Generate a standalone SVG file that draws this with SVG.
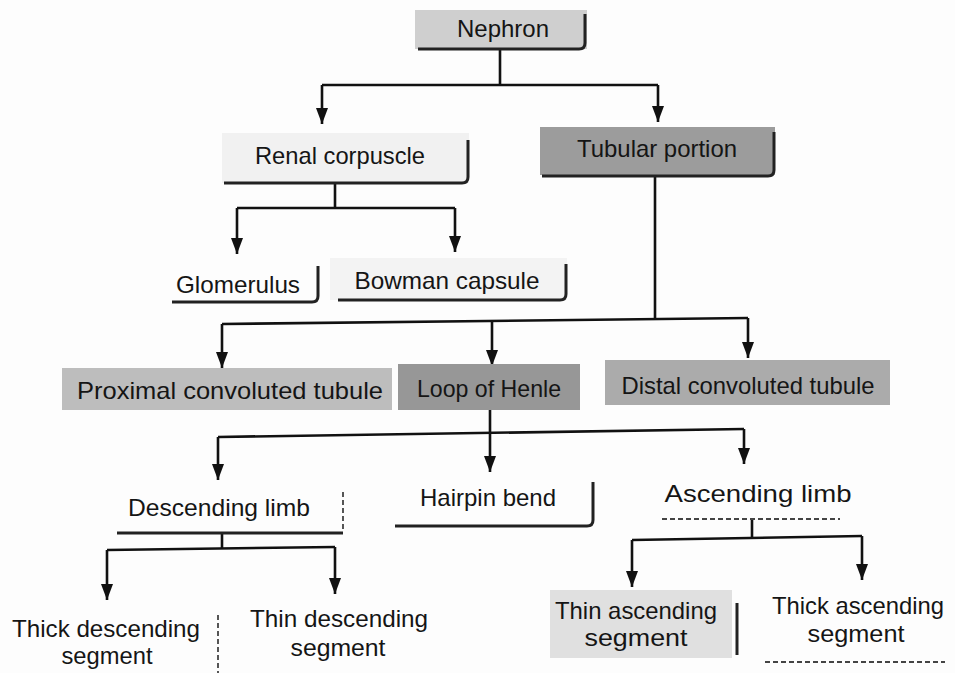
<svg xmlns="http://www.w3.org/2000/svg" width="955" height="673" viewBox="0 0 955 673">
<defs>
<marker id="arr" markerUnits="userSpaceOnUse" markerWidth="16" markerHeight="14" viewBox="0 0 16 14" refX="16" refY="7" orient="auto">
<path d="M0,1 L16,7 L0,13 Z" fill="#111"/>
</marker>
</defs>
<style>
text{font-family:"Liberation Sans Narrow","Liberation Sans","Arial",sans-serif;font-size:24px;fill:#151515;text-anchor:middle}
.sh{fill:none;stroke:#222;stroke-width:3}
.shd{fill:none;stroke:#444;stroke-width:1.8;stroke-dasharray:5 3}
.con path{fill:none;stroke:#111;stroke-width:2.6}
</style>
<rect width="955" height="673" fill="#fdfdfd"/>
<g class="con">
<path d="M500 50 V85"/>
<path d="M322 85 H658"/>
<path d="M322 85 V124" marker-end="url(#arr)"/>
<path d="M658 85 V122" marker-end="url(#arr)"/>
<path d="M335 183 V208"/>
<path d="M237 208 H455"/>
<path d="M237 208 V254" marker-end="url(#arr)"/>
<path d="M455 208 V252" marker-end="url(#arr)"/>
<path d="M655 175 V320"/>
<path d="M222 324 L748 318"/>
<path d="M222 324 V368" marker-end="url(#arr)"/>
<path d="M492 321 V366" marker-end="url(#arr)"/>
<path d="M748 318 V358" marker-end="url(#arr)"/>
<path d="M490 410 V433"/>
<path d="M218 437 L744 429"/>
<path d="M218 437 V480" marker-end="url(#arr)"/>
<path d="M490 433 V472" marker-end="url(#arr)"/>
<path d="M744 429 V464" marker-end="url(#arr)"/>
<path d="M222 534 V549"/>
<path d="M107 550 L335 547"/>
<path d="M107 550 V600" marker-end="url(#arr)"/>
<path d="M335 547 V594" marker-end="url(#arr)"/>
<path d="M752 519 V538"/>
<path d="M632 540 L862 536"/>
<path d="M632 540 V587" marker-end="url(#arr)"/>
<path d="M862 536 V580" marker-end="url(#arr)"/>
</g>
<g id="nephron">
<rect x="415" y="10" width="172" height="39" fill="#cfcfcf"/>
<path class="sh" d="M585 14 V43 Q585 49 579 49 H418"/>
<text x="503" y="37" textLength="92" lengthAdjust="spacingAndGlyphs">Nephron</text>
</g>
<g id="renal-corpuscle">
<rect x="222" y="133" width="247" height="50" fill="#f1f1f1"/>
<path class="sh" d="M468 140 V177 Q468 183 462 183 H224"/>
<text x="340" y="164" textLength="170" lengthAdjust="spacingAndGlyphs">Renal corpuscle</text>
</g>
<g id="tubular-portion">
<rect x="540" y="127" width="235" height="48" fill="#9c9c9c"/>
<path class="sh" d="M774 132 V170 Q774 176 768 176 H542"/>
<text x="657" y="157" textLength="160" lengthAdjust="spacingAndGlyphs">Tubular portion</text>
</g>
<g id="glomerulus">
<path class="sh" d="M318 266 V296 Q318 302 312 302 H172"/>
<text x="238" y="293" textLength="124" lengthAdjust="spacingAndGlyphs">Glomerulus</text>
</g>
<g id="bowman-capsule">
<rect x="330" y="258" width="237" height="42" fill="#f3f3f3"/>
<path class="sh" d="M566 264 V294 Q566 300 560 300 H338"/>
<text x="447" y="289" textLength="185" lengthAdjust="spacingAndGlyphs">Bowman capsule</text>
</g>
<g id="proximal-convoluted-tubule">
<rect x="62" y="368" width="330" height="42" fill="#bdbdbd"/>
<text x="230" y="399" textLength="306" lengthAdjust="spacingAndGlyphs">Proximal convoluted tubule</text>
</g>
<g id="loop-of-henle">
<rect x="398" y="364" width="182" height="46" fill="#979797"/>
<text x="489" y="397" textLength="144" lengthAdjust="spacingAndGlyphs">Loop of Henle</text>
</g>
<g id="distal-convoluted-tubule">
<rect x="605" y="360" width="285" height="45" fill="#ababab"/>
<text x="748" y="394" textLength="253" lengthAdjust="spacingAndGlyphs">Distal convoluted tubule</text>
</g>
<g id="descending-limb">
<path class="shd" d="M343 492 V530"/>
<path class="sh" d="M343 533 H117"/>
<text x="219" y="516" textLength="182" lengthAdjust="spacingAndGlyphs">Descending limb</text>
</g>
<g id="hairpin-bend">
<path class="sh" d="M593 482 V520 Q593 526 587 526 H395"/>
<text x="488" y="506" textLength="136" lengthAdjust="spacingAndGlyphs">Hairpin bend</text>
</g>
<g id="ascending-limb">
<path class="shd" d="M662 519 H840"/>
<text x="758" y="502" textLength="187" lengthAdjust="spacingAndGlyphs">Ascending limb</text>
</g>
<g id="thick-descending-segment">
<path class="shd" d="M218 615 V673"/>
<text x="106" y="637" textLength="188" lengthAdjust="spacingAndGlyphs">Thick descending</text>
<text x="107" y="664" textLength="91" lengthAdjust="spacingAndGlyphs">segment</text>
</g>
<g id="thin-descending-segment">
<text x="339" y="627" textLength="178" lengthAdjust="spacingAndGlyphs">Thin descending</text>
<text x="338" y="656" textLength="95" lengthAdjust="spacingAndGlyphs">segment</text>
</g>
<g id="thin-ascending-segment">
<rect x="550" y="590" width="182" height="68" fill="#e0e0e0"/>
<path class="sh" d="M737 603 V655"/>
<text x="636" y="619" textLength="162" lengthAdjust="spacingAndGlyphs">Thin ascending</text>
<text x="636" y="646" textLength="103" lengthAdjust="spacingAndGlyphs">segment</text>
</g>
<g id="thick-ascending-segment">
<path class="shd" d="M765 662 H945"/>
<text x="858" y="614" textLength="172" lengthAdjust="spacingAndGlyphs">Thick ascending</text>
<text x="856" y="642" textLength="97" lengthAdjust="spacingAndGlyphs">segment</text>
</g>
</svg>
